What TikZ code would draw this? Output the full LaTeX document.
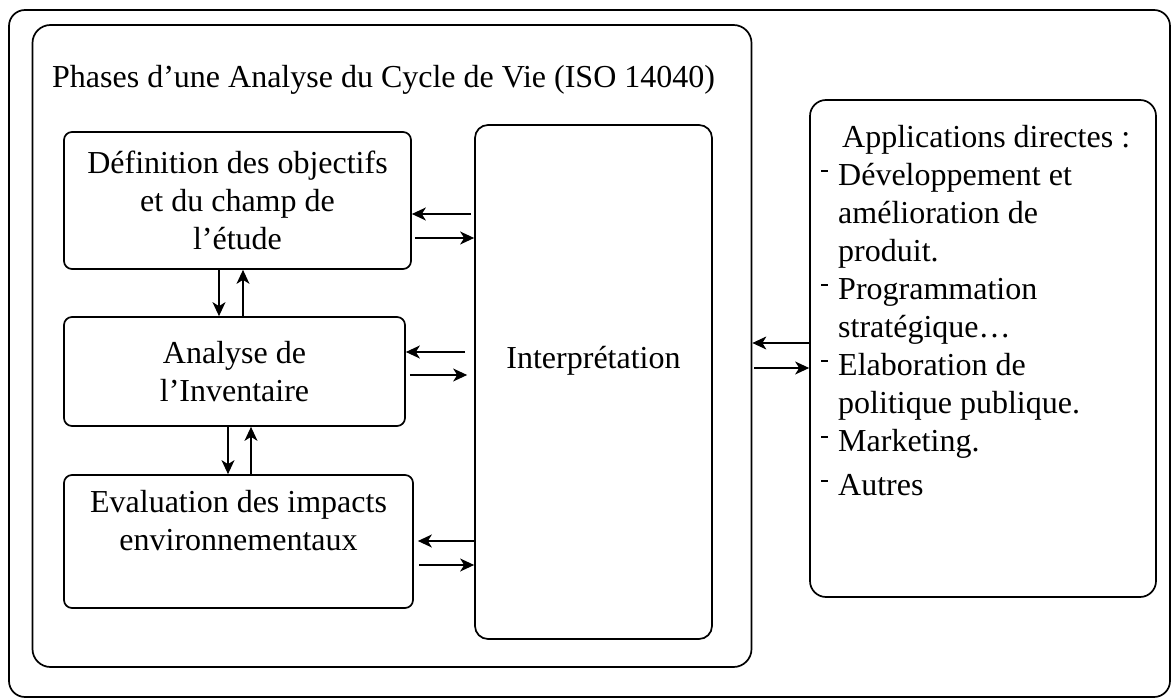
\documentclass[tikz,border=0pt]{standalone}
\usepackage{fontspec}
\setmainfont{Liberation Serif}
\usetikzlibrary{arrows.meta}
\tikzset{
  boite/.style={draw, rounded corners=8pt, line width=1.7pt, align=center, inner sep=0pt, font=\fontsize{32}{38}\selectfont},
  texte/.style={inner sep=0pt, font=\fontsize{32}{38}\selectfont},
  fleche/.style={->, line width=1.5pt},
}
\newcommand{\tiret}{\makebox[17pt][l]{\rule[13pt]{7pt}{2pt}}}

\begin{document}
\begin{tikzpicture}[x=1pt,y=-1pt,>={Stealth[length=14pt,width=13pt,inset=4pt]}]
\useasboundingbox (0,0) rectangle (1172,700);

% cadres
\draw[line width=1.7pt, rounded corners=16pt] (9,10) rectangle (1170,697);
\node[boite, rounded corners=18pt, minimum width=719pt, minimum height=642pt] (acv) at (392,346) {};
\node[texte, anchor=base west] (titre) at (52,88) {Phases d’une Analyse du Cycle de Vie (ISO 14040)};

% phases
\node[boite, minimum width=347pt, minimum height=137pt] (def) at (237.5,200.5) {Définition des objectifs\\ et du champ de\\ l’étude};
\node[boite, minimum width=341pt, minimum height=109pt] (ana) at (234.5,371.5) {Analyse de\\ l’Inventaire};
\node[boite, minimum width=349pt, minimum height=133pt] (eva) at (238.5,541.5) {Evaluation des impacts\\ environnementaux\\[4pt] \mbox{}};
\node[boite, rounded corners=13pt, minimum width=237pt, minimum height=514pt, text depth=50pt] (interp) at (593.5,382) {Interprétation};

% applications
\node[boite, rounded corners=16pt, minimum width=346pt, minimum height=497pt] (apps) at (983,348.5) {};
\node[texte, anchor=north west, align=left] (liste) at (821,125) {\hspace*{21pt}Applications directes :\\
  \tiret Développement et\\ \hspace*{17pt}amélioration de\\ \hspace*{17pt}produit.\\
  \tiret Programmation\\ \hspace*{17pt}stratégique…\\
  \tiret Elaboration de\\ \hspace*{17pt}politique publique.\\
  \tiret Marketing.\\[6pt]
  \tiret Autres};

% fleches
\draw[fleche] (def.south -| 219,0) -- (ana.north -| 219,0);
\draw[fleche] (ana.north -| 243,0) -- (def.south -| 243,0);
\draw[fleche] (ana.south -| 228,0) -- (eva.north -| 228,0);
\draw[fleche] (eva.north -| 251,0) -- (ana.south -| 251,0);

\draw[fleche, shorten <=3pt] (interp.west |- 0,214) -- (def.east |- 0,214);
\draw[fleche, shorten <=3pt] (def.east |- 0,238) -- (interp.west |- 0,238);
\draw[fleche, shorten <=9pt] (interp.west |- 0,352) -- (ana.east |- 0,352);
\draw[fleche, shorten <=4pt, shorten >=7pt] (ana.east |- 0,375) -- (interp.west |- 0,375);
\draw[fleche, shorten >=4pt] (interp.west |- 0,541) -- (eva.east |- 0,541);
\draw[fleche, shorten <=5pt] (eva.east |- 0,565) -- (interp.west |- 0,565);

\draw[fleche, line width=1.2pt] (apps.west |- 0,343) -- (acv.east |- 0,343);
\draw[fleche, line width=1.2pt, shorten <=2pt] (acv.east |- 0,368) -- (apps.west |- 0,368);

\end{tikzpicture}
\end{document}
